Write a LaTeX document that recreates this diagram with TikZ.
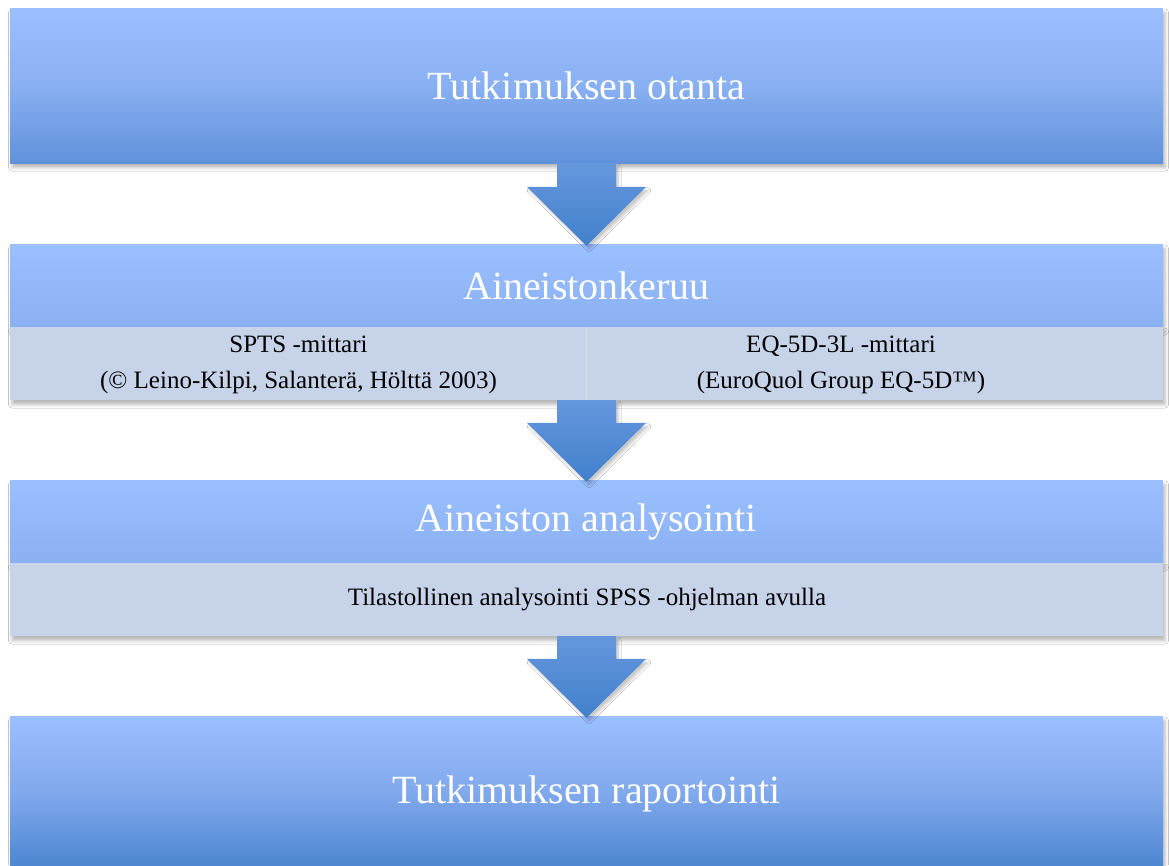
\documentclass[tikz,border=0pt]{standalone}
\usepackage{fontspec}
\setmainfont{Liberation Serif}
\usetikzlibrary{calc,shadows.blur}
\definecolor{boxtop}{RGB}{155,192,255}
\definecolor{boxmid}{RGB}{137,176,242}
\definecolor{boxbot}{RGB}{96,145,218}
\definecolor{boxdeep}{RGB}{72,132,207}
\definecolor{bandfill}{RGB}{198,211,233}
\definecolor{bandline}{RGB}{216,226,242}
\definecolor{arrowtop}{RGB}{101,151,221}
\definecolor{arrowbot}{RGB}{65,128,204}

\tikzset{
	softshadow/.style={blur shadow={shadow xshift=2pt,shadow yshift=-4.5pt,shadow blur radius=3.5pt,shadow opacity=28}},
	stagebox/.style={rectangle,inner sep=0pt,minimum width=1153pt,softshadow,text=white,font=\fontsize{40}{48}\selectfont},
	bandbox/.style={rectangle,inner sep=0pt,minimum width=1153pt,minimum height=73pt,fill=bandfill,softshadow},
	bandtext/.style={align=center,font=\fontsize{25}{36}\selectfont},
	arrowfill/.style={top color=arrowtop,bottom color=arrowbot,blur shadow={shadow xshift=2.5pt,shadow yshift=-3.5pt,shadow blur radius=2.5pt,shadow opacity=22}}
}

\newcommand\blockarrow[2]{%
	\path[arrowfill] ($(#1.south)+(-29.5,0)$) -- ($(#1.south)+(29.5,0)$)
		-- ($(#2.north)+(29.5,57)$) -- ($(#2.north)+(59.5,57)$) -- ($(#2.north)+(0,-2)$)
		-- ($(#2.north)+(-59.5,57)$) -- ($(#2.north)+(-29.5,57)$) -- cycle;}

\begin{document}
\begin{tikzpicture}[x=1pt,y=1pt]
	\useasboundingbox[fill=white] (0,0) rectangle (1169,-865);

	\node[stagebox,minimum height=155pt,top color=boxtop,bottom color=boxbot,middle color=boxmid] (otanta) at (586.5,-85.5) {Tutkimuksen otanta};

	\node[stagebox,minimum height=83pt,top color=boxtop,bottom color=boxmid] (keruu) at (586.5,-285.5) {Aineistonkeruu};
	\node[bandbox] (keruuband) at (586.5,-363.5) {};
	\draw[bandline,line width=1.2pt] (keruuband.north) -- (keruuband.south);
	\node[bandtext] (spts) at (298.5,-365) {SPTS -mittari\\(© Leino-Kilpi, Salanterä, Hölttä 2003)};
	\node[bandtext] (eq) at (841,-365) {EQ-5D-3L -mittari\\(EuroQuol Group EQ-5D™)};

	\node[stagebox,minimum height=83pt,top color=boxtop,bottom color=boxmid] (analyysi) at (586.5,-521.5) {Aineiston analysointi};
	\node[bandbox] (analyysiband) at (586.5,-599.5) {};
	\node[bandtext] (spss) at (587,-600) {Tilastollinen analysointi SPSS -ohjelman avulla};

	\node[stagebox,minimum height=156pt,top color=boxtop,bottom color=boxdeep,middle color={rgb,255:red,128;green,168;blue,236}] (raportointi) at (586.5,-794) {Tutkimuksen raportointi};

	\foreach \a/\b in {otanta/keruu,keruuband/analyysi,analyysiband/raportointi}
		\blockarrow{\a}{\b};
\end{tikzpicture}
\end{document}
